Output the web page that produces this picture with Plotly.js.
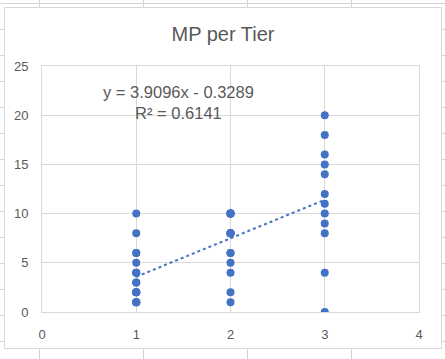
<!DOCTYPE html>
<html>
<head>
<meta charset="utf-8">
<script src="https://cdn.plot.ly/plotly-3.0.1.min.js"></script>
<style>
  html, body { margin: 0; padding: 0; }
  body {
    width: 445px; height: 359px; overflow: hidden; position: relative;
    background-color: #ffffff;
    background-image:
      repeating-linear-gradient(to bottom, transparent 0px, transparent 3px, #d4d4d4 3px, #d4d4d4 4px, transparent 4px, transparent 26px),
      repeating-linear-gradient(to right, transparent 0px, transparent 71px, #d4d4d4 71px, #d4d4d4 72px, transparent 72px, transparent 104px);
    background-position: 0 0, -32px 0;
  }
  #chart { position: absolute; left: 4px; top: 7px; width: 438px; height: 342px; }
  #frame { position: absolute; left: 4px; top: 7px; width: 438px; height: 342px; box-sizing: border-box; border: 1px solid #d9d9d9; pointer-events: none; }
</style>
</head>
<body>
<div id="chart"></div>
<div id="frame"></div>
<script>
// Data
const tier = [
  1,1,1,1,1,1,1,1,1,1,1,1,1,1,1,1,1,1,
  2,2,2,2,2,2,2,2,2,2,2,2,2,2,2,2,
  3,3,3,3,3,3,3,3,3,3,3,3
];
const mp = [
  1,1,1,1,2,2,2,2,3,3,4,4,4,5,6,6,8,10,
  1,2,4,5,6,6,8,8,8,8,8,10,10,10,10,10,
  20,18,16,15,14,12,11,10,9,8,4,0
];
const trendSlope = 3.9096;
const trendIntercept = -0.3289;
const trendR2 = 0.6141;
const trendX = [1, 3];
const xTicks = [0, 1, 2, 3, 4];
const yTicks = [0, 5, 10, 15, 20, 25];
const chartTitle = "MP per Tier";

const blue = "#4472C4";
const grey = "#595959";
const grid = "#d9d9d9";
const font = "Liberation Sans, Arial, sans-serif";

const trendY = trendX.map(x => trendSlope * x + trendIntercept);

const traces = [
  {
    x: tier, y: mp, type: "scatter", mode: "markers",
    marker: { color: blue, size: 8 },
    hoverinfo: "x+y", showlegend: false
  },
  {
    x: trendX, y: trendY, type: "scatter", mode: "lines",
    line: { color: blue, width: 2, dash: "dot" },
    hoverinfo: "skip", showlegend: false
  }
];

const eqText = "y = " + trendSlope.toFixed(4) + "x - " + Math.abs(trendIntercept).toFixed(4) +
  "<br>R² = " + trendR2.toFixed(4);

const layout = {
  width: 438, height: 342,
  margin: { l: 38, r: 23, t: 59, b: 37, pad: 0 },
  paper_bgcolor: "#ffffff",
  plot_bgcolor: "#ffffff",
  font: { family: font, color: grey, size: 13 },
  title: {
    text: chartTitle,
    font: { family: font, size: 20, color: grey },
    x: 0.5, xanchor: "center", y: 0.92, yanchor: "middle"
  },
  xaxis: {
    range: [0, 4], tickvals: xTicks, ticktext: xTicks.map(String),
    showgrid: true, gridcolor: grid, gridwidth: 1,
    zeroline: false, showline: true, linecolor: grid, linewidth: 1, mirror: true,
    ticks: "", ticklabelstandoff: 10,
    tickfont: { family: font, size: 13, color: grey },
    fixedrange: true
  },
  yaxis: {
    range: [0, 25], tickvals: yTicks, ticktext: yTicks.map(String),
    showgrid: true, gridcolor: grid, gridwidth: 1,
    zeroline: false, showline: true, linecolor: grid, linewidth: 1, mirror: true,
    ticks: "", ticklabelstandoff: 10,
    tickfont: { family: font, size: 13, color: grey },
    fixedrange: true
  },
  annotations: [{
    x: 1.443, y: 21.3, xref: "x", yref: "y",
    text: eqText, showarrow: false, align: "center",
    xanchor: "center", yanchor: "middle",
    font: { family: font, size: 16.5, color: grey }
  }]
};

Plotly.newPlot("chart", traces, layout, { displayModeBar: false, staticPlot: true });
</script>
</body>
</html>
